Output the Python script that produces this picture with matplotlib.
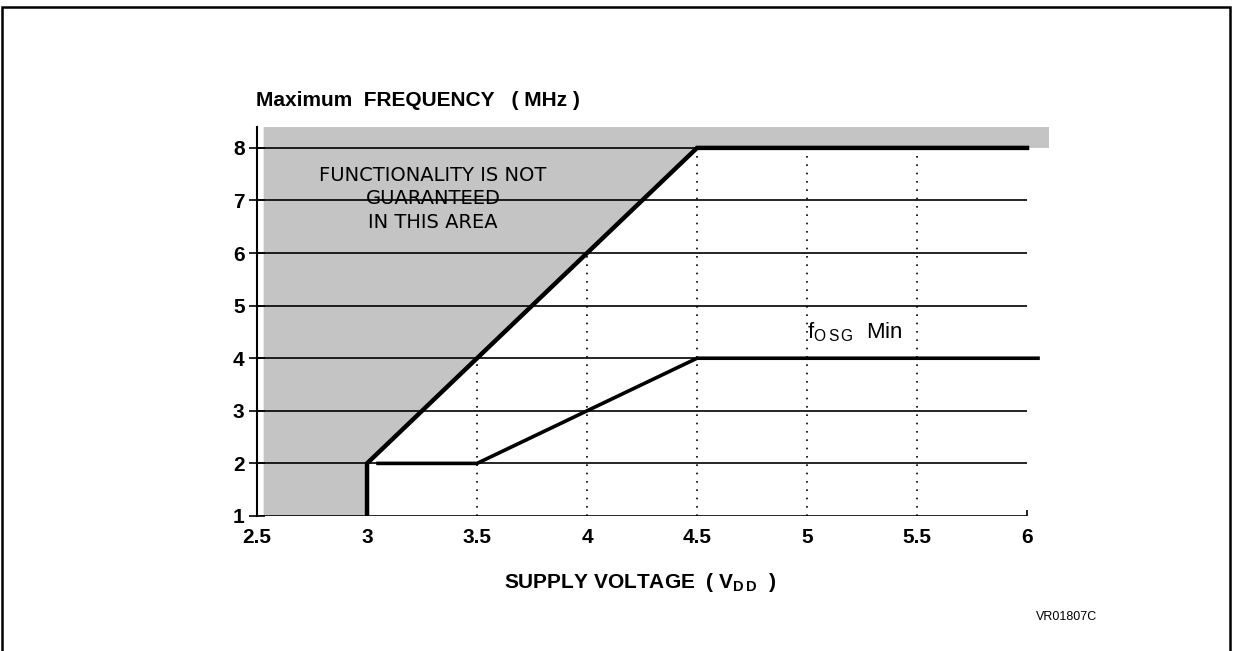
"""Max oscillator frequency vs supply voltage (safe operating area)."""
import matplotlib
matplotlib.use("Agg")
import matplotlib.pyplot as plt
from matplotlib.patches import Rectangle

plt.rcParams["font.family"] = ["Liberation Sans", "DejaVu Sans"]

# operating limits
vdd_ticks = [2.5, 3, 3.5, 4, 4.5, 5, 5.5, 6]
vdd_labels = ["2.5", "3", "3.5", "4", "4.5", "5", "5.5", "6"]
freq_ticks = [1, 2, 3, 4, 5, 6, 7, 8]

fmax_vdd = [3, 3, 4.5, 6]
fmax_mhz = [1, 2, 8, 8]

fmin_vdd = [3.05, 3.5, 4.5, 6.05]
fmin_mhz = [2, 2, 4, 4]

# dotted verticals run from 1 MHz up to the max curve
dot_vdd = [3.5, 4, 4.5, 5, 5.5]
dot_top = [4, 6, 8, 8, 8]

# shaded "not guaranteed" region
shade_vdd = [2.53, 3, 3, 4.5, 6.1, 6.1, 2.53]
shade_mhz = [1, 1, 2, 8, 8, 8.4, 8.4]

fig = plt.figure(figsize=(12.34, 6.51), dpi=100)
fig.patches.append(Rectangle((0.002, -0.01), 0.995, 1.0, transform=fig.transFigure,
                             fill=False, lw=1.8, ec="black"))

ax = fig.add_axes([0.2083, 0.2074, 0.6418, 0.5977])
ax.set_xlim(2.5, 6.1)
ax.set_ylim(1, 8.4)
for s in ["top", "right", "bottom"]:
    ax.spines[s].set_visible(False)
ax.spines["left"].set_linewidth(1.5)

ax.fill(shade_vdd, shade_mhz, facecolor="#c4c4c4", edgecolor="none", zorder=1)

ax.hlines(freq_ticks, 2.5, 6, colors="black", lw=1.2, zorder=2)
ax.vlines(6, 1, 1.12, colors="black", lw=1.2, zorder=2)
for x, top in zip(dot_vdd, dot_top):
    ax.plot([x, x], [1, top], color="black", lw=1.2, ls=(0, (1, 4)), zorder=2)

ax.plot(fmax_vdd, fmax_mhz, color="black", lw=3.2, solid_joinstyle="miter", zorder=3)
ax.plot(fmin_vdd, fmin_mhz, color="black", lw=2.6, solid_joinstyle="miter", zorder=3)

ax.set_xticks(vdd_ticks)
ax.set_xticklabels(vdd_labels, fontsize=15, fontweight="bold")
ax.tick_params(axis="x", length=0, pad=9)
ax.set_yticks(freq_ticks)
ax.set_yticklabels([str(v) for v in freq_ticks], fontsize=15, fontweight="bold")
ax.tick_params(axis="y", direction="inout", length=12, width=1.2, pad=3)

ax.text(3.30, 7.03, "FUNCTIONALITY IS NOT\nGUARANTEED\nIN THIS AREA",
        ha="center", va="center", fontsize=14, linespacing=1.3, zorder=4,
        family="DejaVu Sans")
ax.text(5.0, 4.5, r"f$_{\mathregular{O\,S\,G}}$  Min", fontsize=16, ha="left",
        va="center", zorder=4)

fig.text(256 / 1234, 1 - 100 / 651, "Maximum  FREQUENCY   ( MHz )", fontsize=15,
         fontweight="bold", ha="left", va="center")
fig.text(640 / 1234, 1 - 583 / 651, r"SUPPLY VOLTAGE  ( V$_{\mathregular{D\,D}}$  )",
         fontsize=15, fontweight="bold", ha="center", va="center")
fig.text(1067 / 1234, 1 - 617 / 651, "VR01807C", fontsize=9, ha="center", va="center")

fig.savefig("out.png", dpi=100)
